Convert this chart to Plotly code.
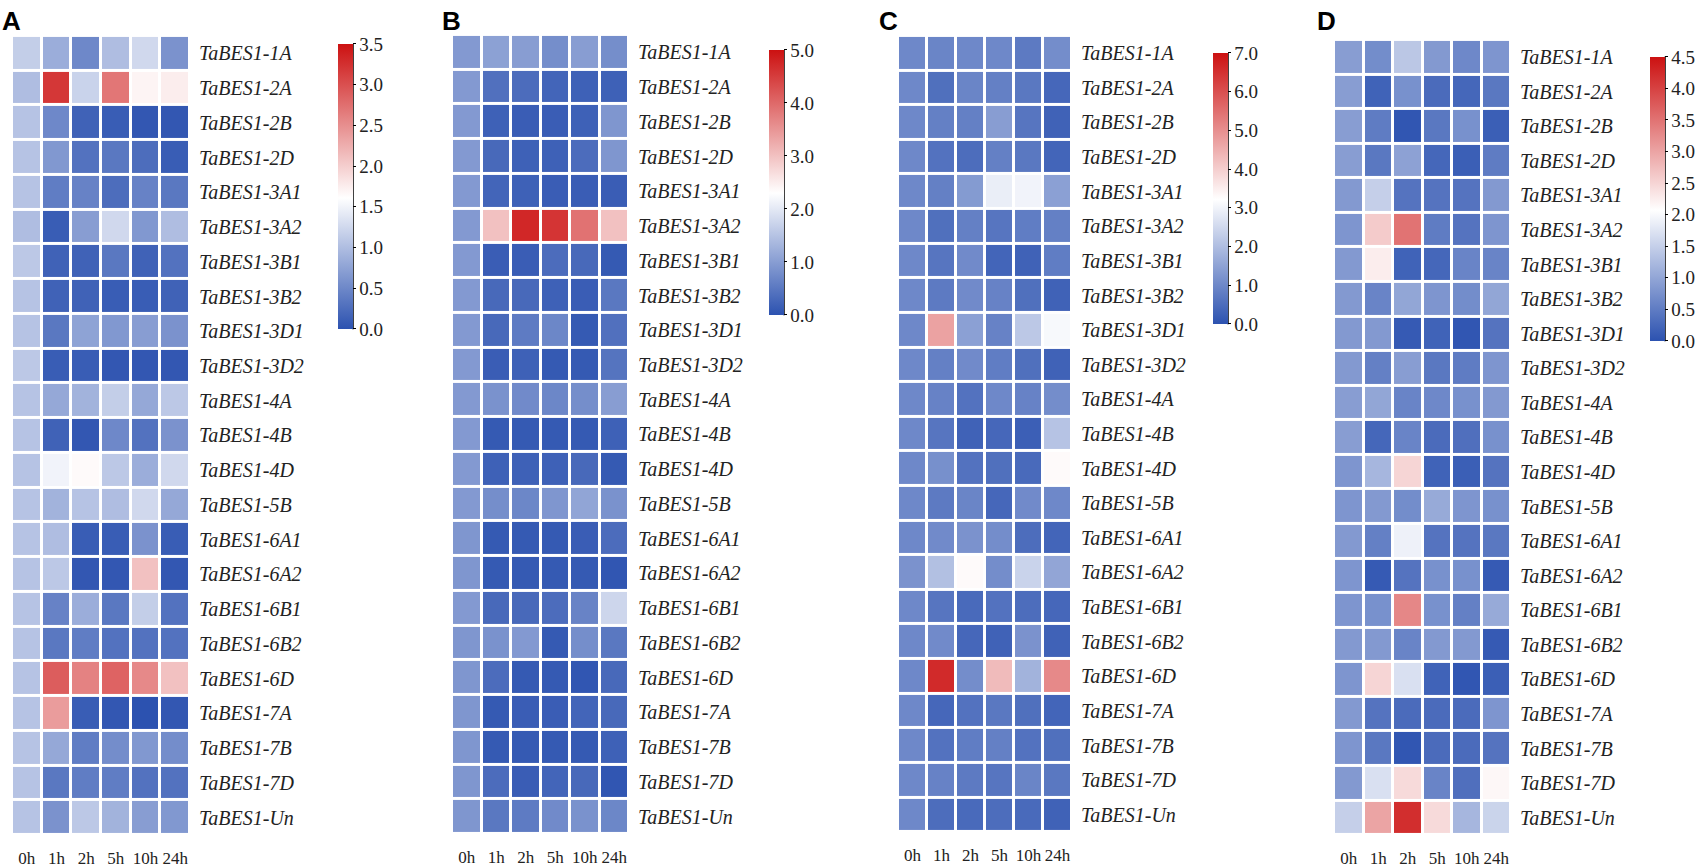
import plotly.graph_objects as go

W, H = 1697, 868

times = ["0h", "1h", "2h", "5h", "10h", "24h"]
genes = ["TaBES1-1A", "TaBES1-2A", "TaBES1-2B", "TaBES1-2D", "TaBES1-3A1", "TaBES1-3A2",
         "TaBES1-3B1", "TaBES1-3B2", "TaBES1-3D1", "TaBES1-3D2", "TaBES1-4A", "TaBES1-4B",
         "TaBES1-4D", "TaBES1-5B", "TaBES1-6A1", "TaBES1-6A2", "TaBES1-6B1", "TaBES1-6B2",
         "TaBES1-6D", "TaBES1-7A", "TaBES1-7B", "TaBES1-7D", "TaBES1-Un"]

# relative expression, rows = genes, cols = times
vals_a = [
    [1.15, 0.85, 0.50, 1.00, 1.25, 0.60],
    [1.00, 3.20, 1.20, 2.70, 1.70, 1.75],
    [1.05, 0.50, 0.15, 0.10, 0.05, 0.05],
    [1.05, 0.65, 0.30, 0.35, 0.25, 0.10],
    [1.05, 0.40, 0.45, 0.25, 0.45, 0.35],
    [1.00, 0.10, 0.70, 1.25, 0.65, 1.00],
    [1.10, 0.15, 0.15, 0.35, 0.15, 0.30],
    [1.05, 0.15, 0.15, 0.10, 0.10, 0.15],
    [1.05, 0.35, 0.75, 0.65, 0.70, 0.60],
    [1.10, 0.10, 0.10, 0.05, 0.05, 0.05],
    [1.05, 0.80, 0.90, 1.15, 0.80, 1.10],
    [1.05, 0.15, 0.05, 0.50, 0.30, 0.60],
    [1.05, 1.50, 1.65, 1.10, 0.85, 1.25],
    [1.05, 0.90, 1.05, 1.00, 1.25, 0.80],
    [1.05, 1.00, 0.10, 0.10, 0.60, 0.10],
    [1.05, 1.10, 0.05, 0.05, 2.10, 0.05],
    [1.05, 0.45, 0.85, 0.35, 1.15, 0.30],
    [1.05, 0.35, 0.40, 0.30, 0.30, 0.30],
    [1.05, 2.90, 2.60, 2.85, 2.55, 2.10],
    [1.05, 2.40, 0.10, 0.05, 0.00, 0.05],
    [1.05, 0.80, 0.40, 0.55, 0.65, 0.55],
    [1.05, 0.35, 0.40, 0.40, 0.30, 0.30],
    [1.05, 0.60, 1.10, 0.90, 0.70, 0.65],
]
vals_b = [
    [0.95, 1.05, 1.00, 0.80, 1.00, 0.80],
    [0.95, 0.40, 0.35, 0.25, 0.20, 0.20],
    [0.95, 0.20, 0.15, 0.15, 0.20, 0.90],
    [0.95, 0.30, 0.20, 0.20, 0.35, 0.90],
    [0.95, 0.25, 0.20, 0.15, 0.15, 0.15],
    [0.95, 3.00, 4.75, 4.60, 3.90, 3.00],
    [0.95, 0.15, 0.15, 0.35, 0.30, 0.10],
    [0.95, 0.30, 0.30, 0.20, 0.15, 0.50],
    [0.95, 0.30, 0.55, 0.70, 0.10, 0.40],
    [0.95, 0.15, 0.20, 0.10, 0.10, 0.45],
    [0.95, 0.85, 0.75, 0.70, 0.80, 1.00],
    [0.95, 0.10, 0.10, 0.10, 0.10, 0.20],
    [0.95, 0.20, 0.20, 0.20, 0.30, 0.10],
    [0.95, 0.80, 0.70, 0.90, 1.10, 0.85],
    [0.90, 0.10, 0.10, 0.10, 0.15, 0.35],
    [0.90, 0.10, 0.10, 0.10, 0.10, 0.05],
    [0.95, 0.30, 0.30, 0.35, 0.65, 1.75],
    [0.90, 0.85, 0.95, 0.10, 0.80, 0.50],
    [0.90, 0.35, 0.10, 0.10, 0.05, 0.30],
    [0.90, 0.10, 0.15, 0.15, 0.25, 0.30],
    [0.90, 0.10, 0.10, 0.10, 0.10, 0.20],
    [0.90, 0.35, 0.15, 0.25, 0.30, 0.05],
    [0.90, 0.50, 0.55, 0.75, 0.85, 0.70],
]
vals_c = [
    [1.00, 0.95, 1.00, 1.00, 0.75, 1.10],
    [1.00, 0.55, 0.95, 0.85, 0.70, 0.40],
    [1.00, 0.85, 0.85, 1.40, 0.65, 0.30],
    [1.00, 0.60, 0.50, 0.85, 0.70, 0.35],
    [1.00, 0.85, 1.35, 2.90, 3.00, 1.45],
    [1.00, 0.55, 0.85, 0.65, 0.80, 0.85],
    [1.00, 0.65, 1.05, 0.35, 0.30, 0.80],
    [1.00, 0.75, 1.05, 0.90, 0.55, 0.30],
    [1.00, 4.70, 1.45, 0.90, 2.20, 3.10],
    [1.00, 0.85, 1.05, 0.80, 0.55, 0.30],
    [1.00, 0.90, 0.60, 1.00, 0.90, 1.10],
    [1.00, 0.65, 0.30, 0.40, 0.25, 2.10],
    [1.00, 1.15, 0.60, 0.55, 0.45, 3.30],
    [1.00, 0.75, 0.95, 0.40, 1.05, 1.00],
    [1.00, 1.05, 1.20, 1.10, 0.50, 0.35],
    [1.20, 2.05, 3.30, 1.10, 2.40, 1.55],
    [1.00, 0.65, 0.45, 0.60, 0.50, 0.40],
    [1.00, 1.05, 0.40, 0.30, 1.20, 0.30],
    [1.00, 6.60, 1.10, 4.30, 1.80, 5.10],
    [1.00, 0.40, 0.60, 0.70, 0.55, 0.35],
    [1.00, 0.60, 0.80, 0.85, 0.60, 0.55],
    [1.00, 0.90, 0.75, 0.65, 0.95, 0.70],
    [1.00, 0.50, 0.45, 0.50, 0.45, 0.30],
]
vals_d = [
    [0.90, 0.70, 1.40, 0.85, 0.65, 0.80],
    [0.90, 0.20, 0.75, 0.30, 0.25, 0.45],
    [0.90, 0.50, 0.05, 0.45, 0.75, 0.15],
    [0.90, 0.45, 0.95, 0.25, 0.15, 0.50],
    [0.85, 1.50, 0.40, 0.40, 0.40, 0.85],
    [0.80, 2.60, 3.50, 0.50, 0.40, 0.80],
    [0.85, 2.25, 0.20, 0.25, 0.60, 0.60],
    [0.85, 0.60, 1.00, 0.80, 0.70, 1.00],
    [0.85, 0.85, 0.10, 0.20, 0.05, 0.40],
    [0.85, 0.55, 0.90, 0.45, 0.50, 0.80],
    [0.90, 1.00, 0.60, 0.65, 0.75, 0.85],
    [0.90, 0.25, 0.60, 0.30, 0.35, 0.75],
    [0.80, 1.20, 2.50, 0.20, 0.15, 0.40],
    [0.80, 0.85, 0.70, 1.05, 0.80, 0.75],
    [0.85, 0.55, 1.90, 0.40, 0.40, 0.45],
    [0.80, 0.10, 0.40, 0.75, 0.75, 0.10],
    [0.80, 0.75, 3.30, 0.75, 0.55, 1.05],
    [0.85, 0.85, 0.60, 0.85, 0.85, 0.10],
    [0.80, 2.50, 1.70, 0.20, 0.05, 0.15],
    [0.85, 0.40, 0.30, 0.30, 0.30, 0.80],
    [0.80, 0.45, 0.05, 0.30, 0.30, 0.40],
    [0.85, 1.70, 2.45, 0.60, 0.35, 2.15],
    [1.50, 3.00, 4.20, 2.45, 1.20, 1.55],
]

cmax_list = [3.5, 5.0, 7.0, 4.5]
dtick_list = [0.5, 1.0, 1.0, 0.5]
letters = ["A", "B", "C", "D"]

# pixel geometry of each panel: heatmap left/right/top/bottom, colorbar left/top/bottom, letter x
panels = [
    dict(x0=12, x1=190, y0=36, y1=837, cb_x=338, cb_y0=44, cb_y1=330, lx=0),
    dict(x0=452, x1=629, y0=35, y1=836, cb_x=769, cb_y0=50, cb_y1=316, lx=440),
    dict(x0=898, x1=1072, y0=36, y1=834, cb_x=1213, cb_y0=53, cb_y1=325, lx=877),
    dict(x0=1334, x1=1511, y0=40, y1=837, cb_x=1650, cb_y0=57, cb_y1=342, lx=1315),
]

cscale = [[0.0, "#2c52b0"], [0.46, "#ffffff"], [1.0, "#cc1111"]]
serif = "Liberation Serif, Times New Roman, serif"
cb_thick = 15

fig = go.Figure()
shapes = []
annotations = []
for i, (z, p) in enumerate(zip([vals_a, vals_b, vals_c, vals_d], panels)):
    n = "" if i == 0 else str(i + 1)
    fig.add_trace(go.Heatmap(
        z=z, x=times, y=genes, xaxis="x" + n, yaxis="y" + n,
        colorscale=cscale, zmin=0, zmax=cmax_list[i],
        xgap=3, ygap=3,
        colorbar=dict(
            x=p["cb_x"] / W, xanchor="left", xpad=0,
            y=1 - p["cb_y0"] / H, yanchor="top", ypad=0,
            len=(p["cb_y1"] - p["cb_y0"]) / H, lenmode="fraction",
            thickness=cb_thick, outlinewidth=0,
            ticks="outside", ticklen=3, tickwidth=1, tickcolor="black",
            tick0=0, dtick=dtick_list[i], tickformat=".1f",
            tickfont=dict(family=serif, size=19, color="#222"),
        ),
    ))
    fig.layout["xaxis" + n] = dict(
        domain=[p["x0"] / W, p["x1"] / W], anchor="y" + n,
        showgrid=False, zeroline=False, showline=False, ticks="",
        tickangle=0,
        tickfont=dict(family=serif, size=17, color="#222"),
        ticklabelstandoff=11,
    )
    fig.layout["yaxis" + n] = dict(
        domain=[1 - p["y1"] / H, 1 - p["y0"] / H], anchor="x" + n,
        side="right", autorange="reversed",
        showgrid=False, zeroline=False, showline=False, ticks="",
        tickfont=dict(family=serif, size=20, color="#222", style="italic"),
        ticklabelstandoff=8,
    )
    # right spine of the colour bar
    xs = (p["cb_x"] + cb_thick) / W
    shapes.append(dict(type="line", xref="paper", yref="paper",
                       x0=xs, x1=xs, y0=1 - p["cb_y1"] / H, y1=1 - p["cb_y0"] / H,
                       line=dict(color="black", width=1.5)))
    annotations.append(dict(text="<b>" + letters[i] + "</b>", xref="paper", yref="paper",
                            x=p["lx"] / W, y=1 - 4 / H, xanchor="left", yanchor="top",
                            showarrow=False,
                            font=dict(family="Liberation Sans, Arial, sans-serif", size=26,
                                      color="black")))

fig.update_layout(
    width=W, height=H,
    margin=dict(l=0, r=0, t=0, b=0),
    paper_bgcolor="white", plot_bgcolor="white",
    shapes=shapes, annotations=annotations,
)

fig.write_html("out.html", config={"displayModeBar": False},
               post_script="document.body.style.margin='0';")
